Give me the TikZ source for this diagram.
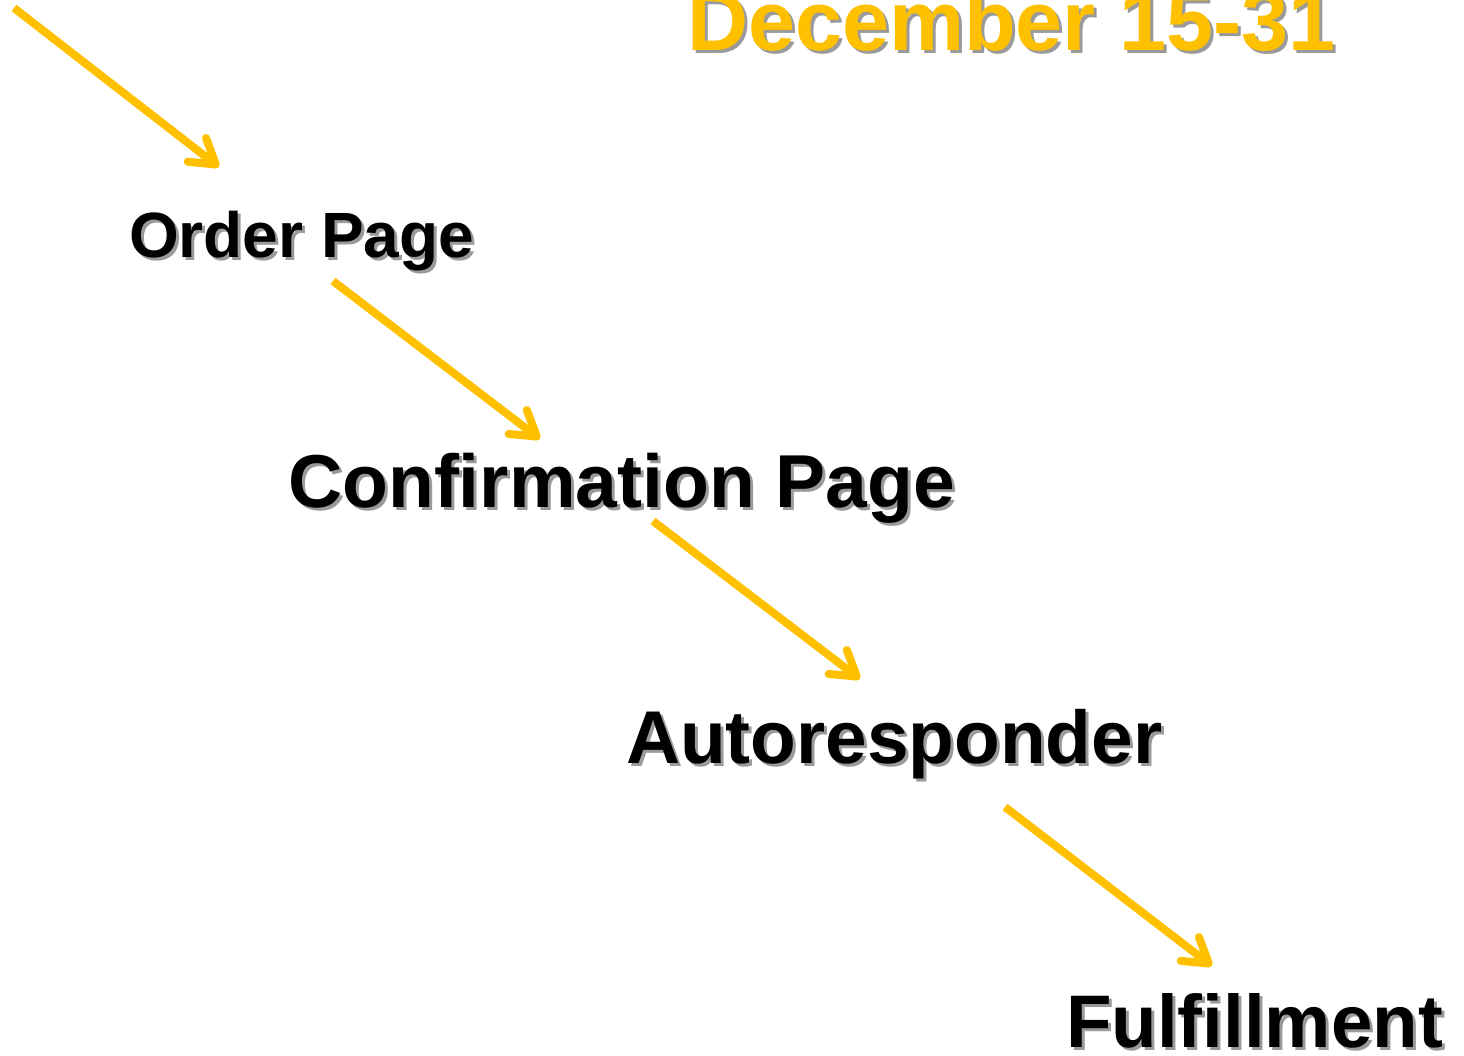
\documentclass[tikz,border=0pt]{standalone}
\usepackage{fontspec}
\setmainfont{Liberation Sans}
\usetikzlibrary{arrows.meta}
\definecolor{gold}{HTML}{FFC000}
\definecolor{shade}{HTML}{9A9A9A}
\tikzset{
  flow/.style={draw=gold, line width=8pt, -{Straight Barb[length=24pt,width=30pt,round]}},
  lbl/.style={anchor=base west, inner sep=0pt}
}
\newcommand{\shd}[1]{\makebox[0pt][l]{\hspace{3pt}\raisebox{-3pt}{\textcolor{shade}{#1}}}#1}
\begin{document}
\begin{tikzpicture}[x=1pt,y=-1pt]
\useasboundingbox (0,0) rectangle (1464,1055);
\begin{scope}
\clip (0,0) rectangle (1464,1055);
\node[lbl, font=\bfseries\fontsize{84.5}{84.5}\selectfont] (title) at (687,50)
  {\makebox[0pt][l]{\hspace{3pt}\raisebox{-3pt}{\textcolor{shade}{December 15-31}}}\textcolor{gold}{December 15-31}};
\end{scope}
\node[lbl, font=\bfseries\fontsize{64}{64}\selectfont] (order) at (129,257) {\shd{Order Page}};
\node[lbl, font=\bfseries\fontsize{75}{75}\selectfont] (confirm) at (288,507) {\shd{Confirmation Page}};
\node[lbl, font=\bfseries\fontsize{74.8}{74.8}\selectfont] (auto) at (626,763) {\shd{Autoresponder}};
\node[lbl, font=\bfseries\fontsize{74.5}{74.5}\selectfont] (fulfil) at (1066,1047) {\shd{Fulfillment}};
\coordinate (s1) at (14,8);    \coordinate (e1) at (219,167);
\coordinate (s2) at (333,281); \coordinate (e2) at (540,439);
\coordinate (s3) at (653,521); \coordinate (e3) at (860,679);
\coordinate (s4) at (1005,807);\coordinate (e4) at (1212,966);
\draw[flow] (s1) -- (e1);
\draw[flow] (s2) -- (e2);
\draw[flow] (s3) -- (e3);
\draw[flow] (s4) -- (e4);
\end{tikzpicture}
\end{document}
